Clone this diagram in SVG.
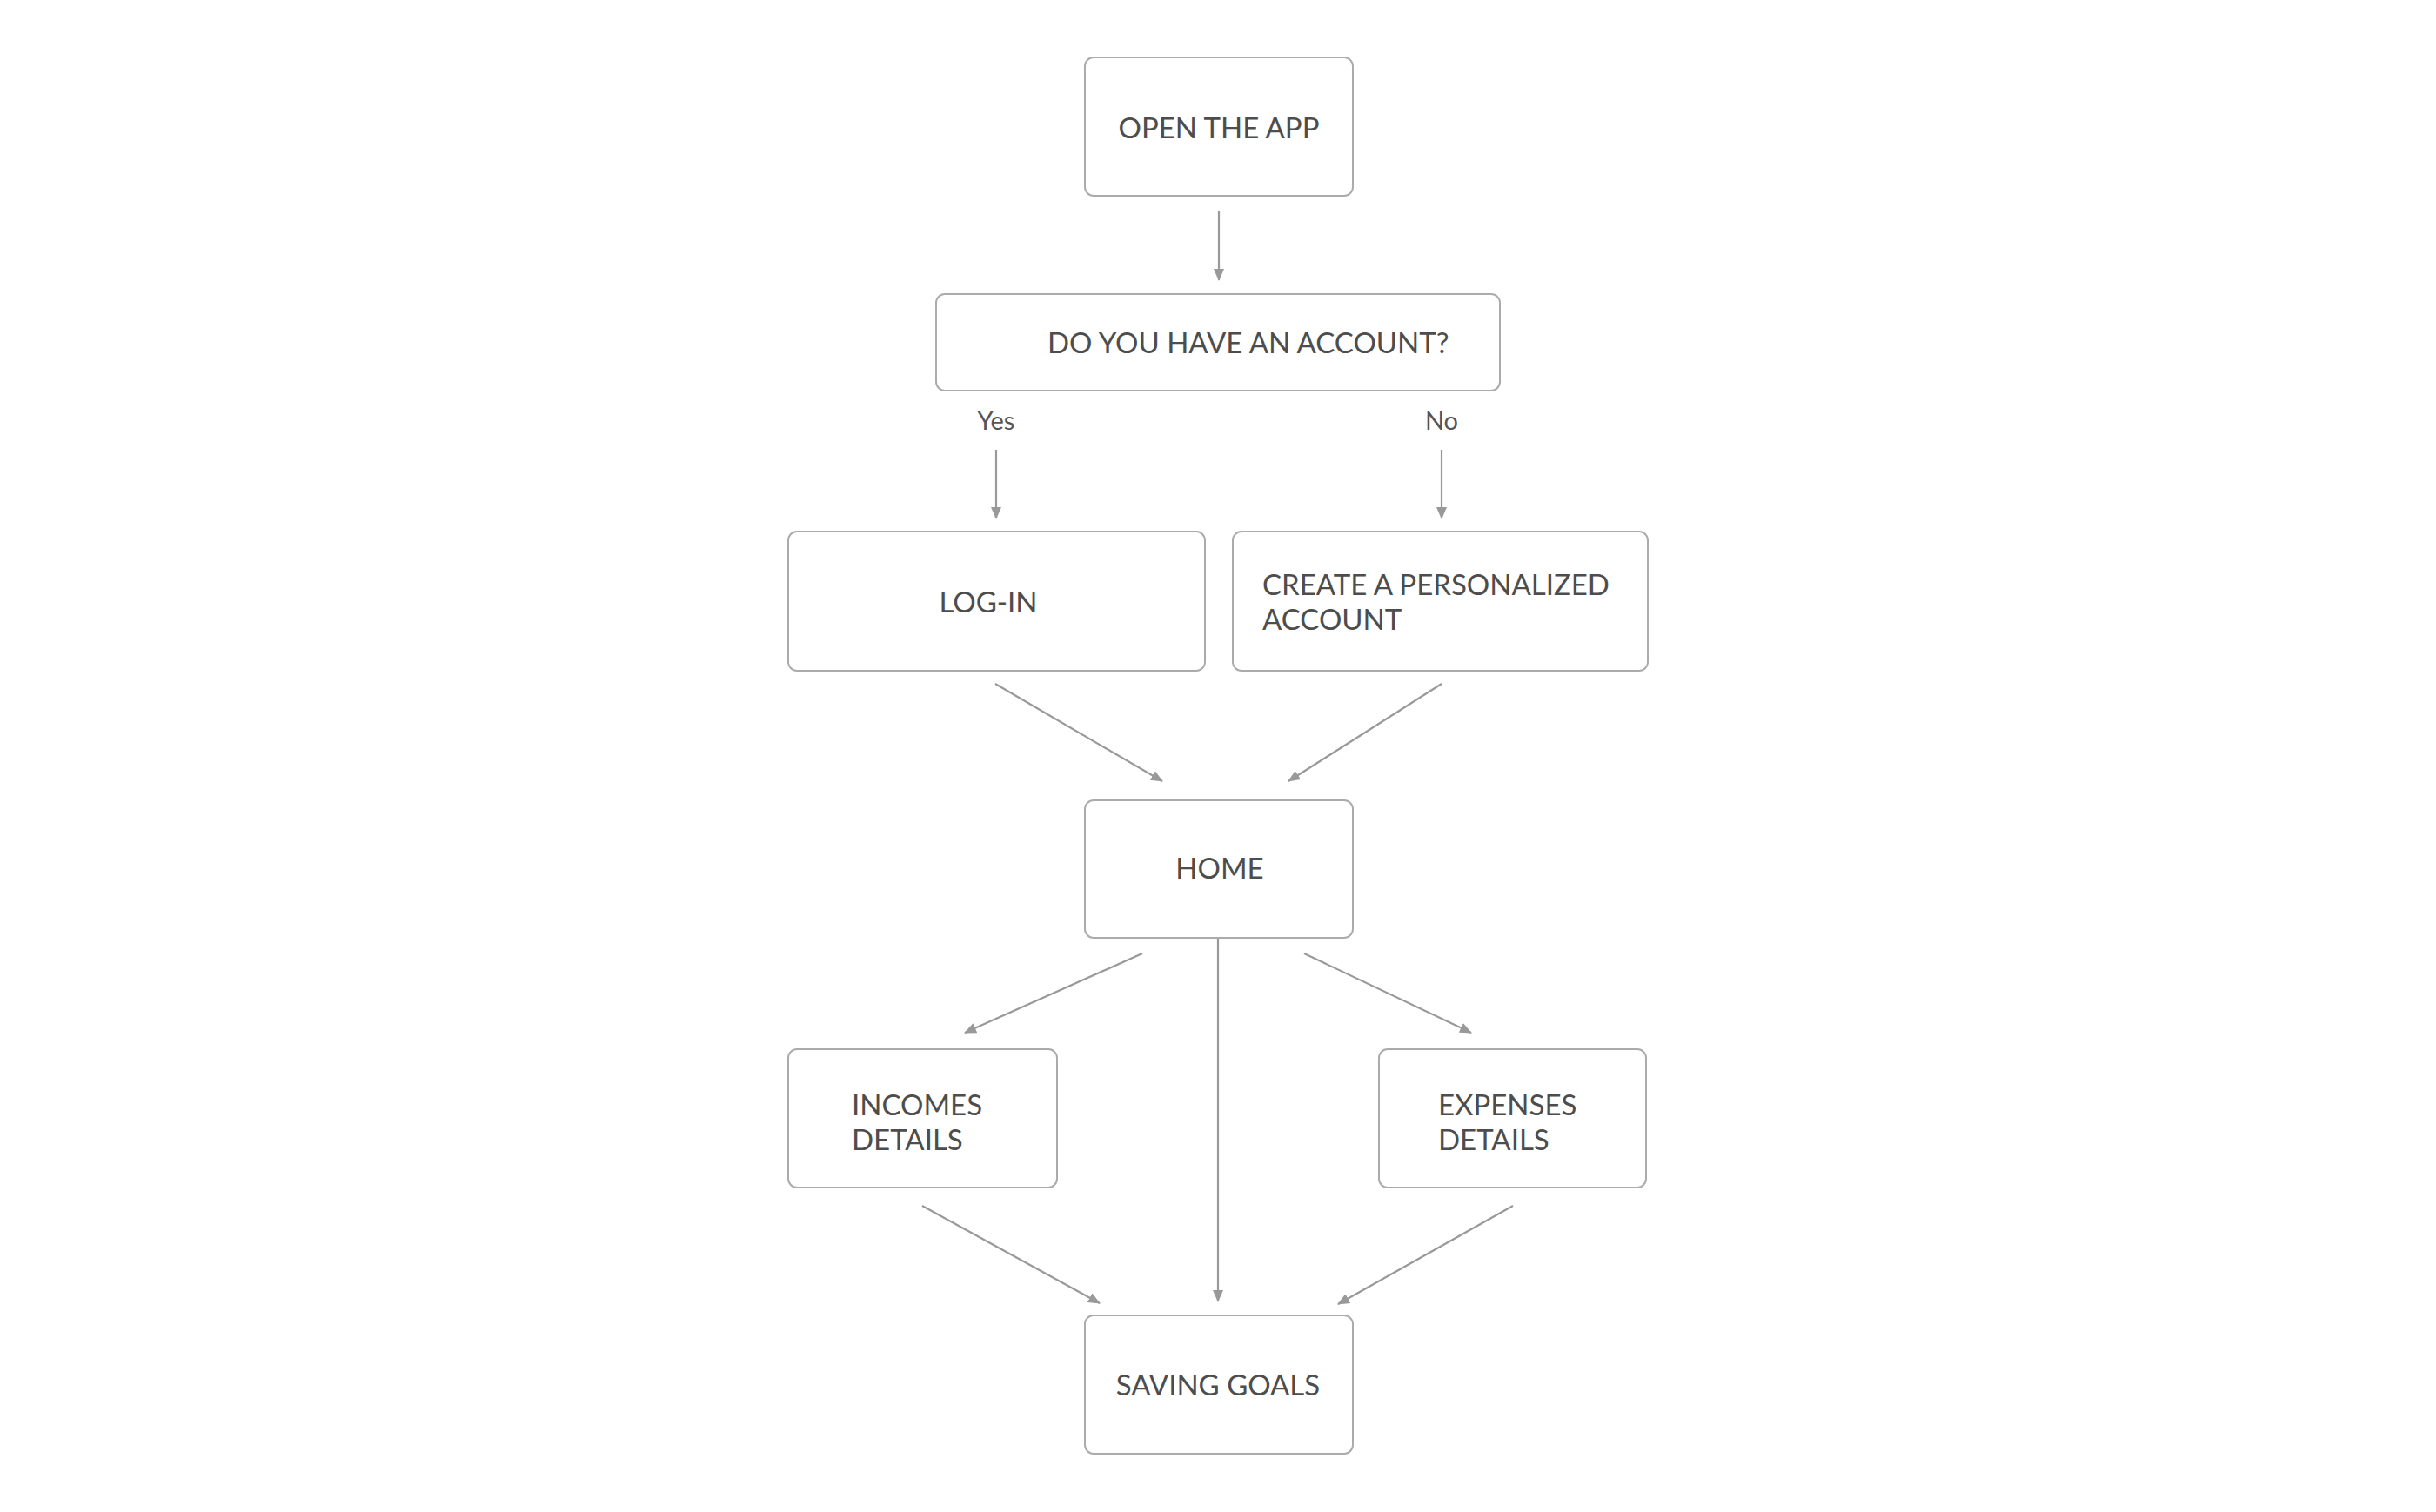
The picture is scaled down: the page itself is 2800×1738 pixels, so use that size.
<svg xmlns="http://www.w3.org/2000/svg" width="2800" height="1738" viewBox="0 0 2800 1738">
<style>
.box{fill:#ffffff;stroke:#ababab;stroke-width:2}
.t{font-family:Lato,"Liberation Sans",sans-serif;font-size:33px;fill:#4d4d4d}
.lbl{font-family:Lato,"Liberation Sans",sans-serif;font-size:29px;fill:#555555}
.c{text-anchor:middle}
.edge{stroke:#999999;stroke-width:2.2;fill:none;marker-end:url(#ah)}
</style>
<defs>
<marker id="ah" markerUnits="userSpaceOnUse" markerWidth="14" markerHeight="12" refX="13" refY="6" orient="auto">
<path d="M0,0 L14,6 L0,12 Z" fill="#999999"/>
</marker>
</defs>
<rect width="2800" height="1738" fill="#ffffff"/>
<g id="connectors">
<line class="edge" x1="1401" y1="243" x2="1401" y2="322"/>
<line class="edge" x1="1145" y1="517" x2="1145" y2="596"/>
<line class="edge" x1="1657" y1="517" x2="1657" y2="596"/>
<line class="edge" x1="1144" y1="786" x2="1336" y2="898"/>
<line class="edge" x1="1657" y1="786" x2="1481" y2="898"/>
<line class="edge" x1="1313" y1="1096" x2="1109" y2="1187"/>
<line class="edge" x1="1499" y1="1096" x2="1691" y2="1187"/>
<line class="edge" x1="1400" y1="1078" x2="1400" y2="1496"/>
<line class="edge" x1="1060" y1="1386" x2="1264" y2="1498"/>
<line class="edge" x1="1739" y1="1386" x2="1538" y2="1499"/>
<text class="lbl c" x="1145" y="494">Yes</text>
<text class="lbl c" x="1657" y="494">No</text>
</g>
<g id="open">
<rect class="box" x="1247" y="66" width="308" height="159" rx="10"/>
<text class="t c" x="1401" y="159">OPEN THE APP</text>
</g>
<g id="account">
<rect class="box" x="1076" y="338" width="648" height="111" rx="10"/>
<text class="t" x="1204" y="406">DO YOU HAVE AN ACCOUNT?</text>
</g>
<g id="login">
<rect class="box" x="906" y="611" width="479" height="160" rx="10"/>
<text class="t c" x="1136" y="704">LOG-IN</text>
</g>
<g id="create">
<rect class="box" x="1417" y="611" width="477" height="160" rx="10"/>
<text class="t" x="1451" y="684">CREATE A PERSONALIZED</text>
<text class="t" x="1451" y="724">ACCOUNT</text>
</g>
<g id="home">
<rect class="box" x="1247" y="920" width="308" height="158" rx="10"/>
<text class="t c" x="1402" y="1010">HOME</text>
</g>
<g id="incomes">
<rect class="box" x="906" y="1206" width="309" height="159" rx="10"/>
<text class="t" x="979" y="1282">INCOMES</text>
<text class="t" x="979" y="1322">DETAILS</text>
</g>
<g id="expenses">
<rect class="box" x="1585" y="1206" width="307" height="159" rx="10"/>
<text class="t" x="1653" y="1282">EXPENSES</text>
<text class="t" x="1653" y="1322">DETAILS</text>
</g>
<g id="saving">
<rect class="box" x="1247" y="1512" width="308" height="159" rx="10"/>
<text class="t c" x="1400" y="1604">SAVING GOALS</text>
</g>
</svg>
